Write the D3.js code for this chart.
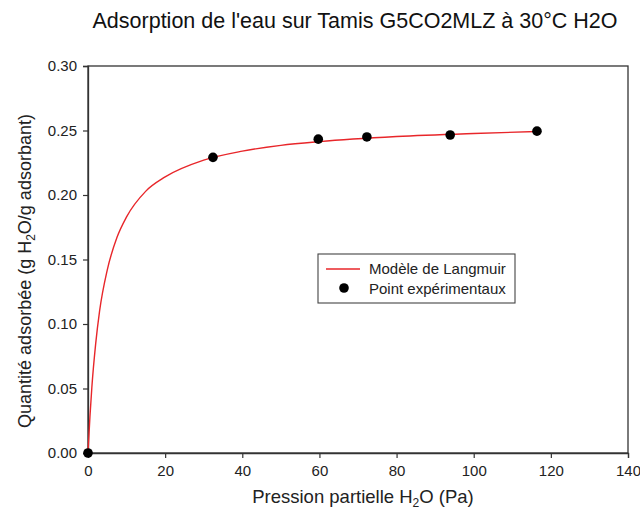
<!DOCTYPE html>
<html><head><meta charset="utf-8">
<script src="https://cdn.jsdelivr.net/npm/d3@7"></script>
<style>body{margin:0;background:#fff;} svg{display:block;font-family:"Liberation Sans",Arial,sans-serif;}</style>
</head><body>
<script>
// Experimental points (partial pressure Pa, uptake g/g)
const expP = [0, 32.4, 59.7, 72.3, 93.9, 116.4];
const expQ = [0, 0.2292, 0.2433, 0.2450, 0.2465, 0.2495];
// Langmuir model curve
const modelP = [0, 0.5, 1, 2, 3, 5, 7.5, 10, 15, 20, 30, 40, 50, 60, 80, 100, 116.4];
const modelQ = [0, 0.028, 0.051, 0.085, 0.110, 0.142, 0.167, 0.183, 0.203, 0.214, 0.227, 0.234, 0.2385, 0.2414, 0.2453, 0.2477, 0.2492];
const xTicks = [0, 20, 40, 60, 80, 100, 120, 140];
const yTicks = [0, 0.05, 0.10, 0.15, 0.20, 0.25, 0.30];

const W = 640, H = 510;
const m = {l: 88, r: 12, t: 66, b: 57};
const svg = d3.select("body").append("svg").attr("width", W).attr("height", H);
const x = d3.scaleLinear().domain([0, 140]).range([m.l, W - m.r]);
const y = d3.scaleLinear().domain([0, 0.30]).range([H - m.b, m.t]);

// frame
svg.append("rect").attr("x", m.l).attr("y", m.t).attr("width", W - m.r - m.l).attr("height", H - m.b - m.t)
  .attr("fill", "none").attr("stroke", "#333").attr("stroke-width", 1.3);

const xa = svg.append("g").attr("transform", `translate(0,${H - m.b})`)
  .call(d3.axisBottom(x).tickValues(xTicks).tickSize(5).tickPadding(7).tickFormat(d3.format("d")));
const ya = svg.append("g").attr("transform", `translate(${m.l},0)`)
  .call(d3.axisLeft(y).tickValues(yTicks).tickSize(5).tickPadding(6).tickFormat(d3.format(".2f")));
[xa, ya].forEach(a => {
  a.select(".domain").attr("stroke", "#333").attr("stroke-width", 1.3);
  a.selectAll(".tick line").attr("stroke", "#333").attr("stroke-width", 1.2);
  a.selectAll(".tick text").attr("font-size", 15).attr("fill", "#222").attr("font-family", "Liberation Sans, Arial, sans-serif");
});

// model curve
const line = d3.line().x((d, i) => x(modelP[i])).y((d, i) => y(modelQ[i])).curve(d3.curveMonotoneX);
svg.append("path").datum(modelQ).attr("d", line).attr("fill", "none").attr("stroke", "#e8262a").attr("stroke-width", 1.4);

// points
svg.append("g").selectAll("circle").data(expP).join("circle")
  .attr("cx", (d) => x(d)).attr("cy", (d, i) => y(expQ[i])).attr("r", 4.8).attr("fill", "#000");

// title
svg.append("text").attr("x", 355).attr("y", 28).attr("text-anchor", "middle").attr("font-size", 21.5).attr("fill", "#111")
  .text("Adsorption de l'eau sur Tamis G5CO2MLZ à 30°C H2O");

// x label
const xl = svg.append("text").attr("x", 363).attr("y", 503).attr("text-anchor", "middle").attr("font-size", 18.5).attr("fill", "#222");
xl.append("tspan").text("Pression partielle H");
xl.append("tspan").text("2").attr("font-size", 12).attr("dy", 4);
xl.append("tspan").text("O (Pa)").attr("dy", -4);

// y label
const yl = svg.append("text").attr("transform", `translate(31,271) rotate(-90)`)
  .attr("text-anchor", "middle").attr("font-size", 18).attr("fill", "#222");
yl.append("tspan").text("Quantité adsorbée (g H");
yl.append("tspan").text("2").attr("font-size", 12).attr("dy", 4);
yl.append("tspan").text("O/g adsorbant)").attr("dy", -4);

// legend
const lg = svg.append("g");
lg.append("rect").attr("x", 318).attr("y", 254).attr("width", 197).attr("height", 49)
  .attr("fill", "#fff").attr("stroke", "#444").attr("stroke-width", 1.1);
lg.append("line").attr("x1", 326).attr("x2", 360).attr("y1", 269).attr("y2", 269).attr("stroke", "#e8262a").attr("stroke-width", 1.4);
lg.append("circle").attr("cx", 344).attr("cy", 288).attr("r", 4.8).attr("fill", "#000");
lg.append("text").attr("x", 369).attr("y", 274).attr("font-size", 15).attr("fill", "#222").text("Modèle de Langmuir");
lg.append("text").attr("x", 369).attr("y", 294).attr("font-size", 15).attr("fill", "#222").text("Point expérimentaux");
</script>
</body></html>
